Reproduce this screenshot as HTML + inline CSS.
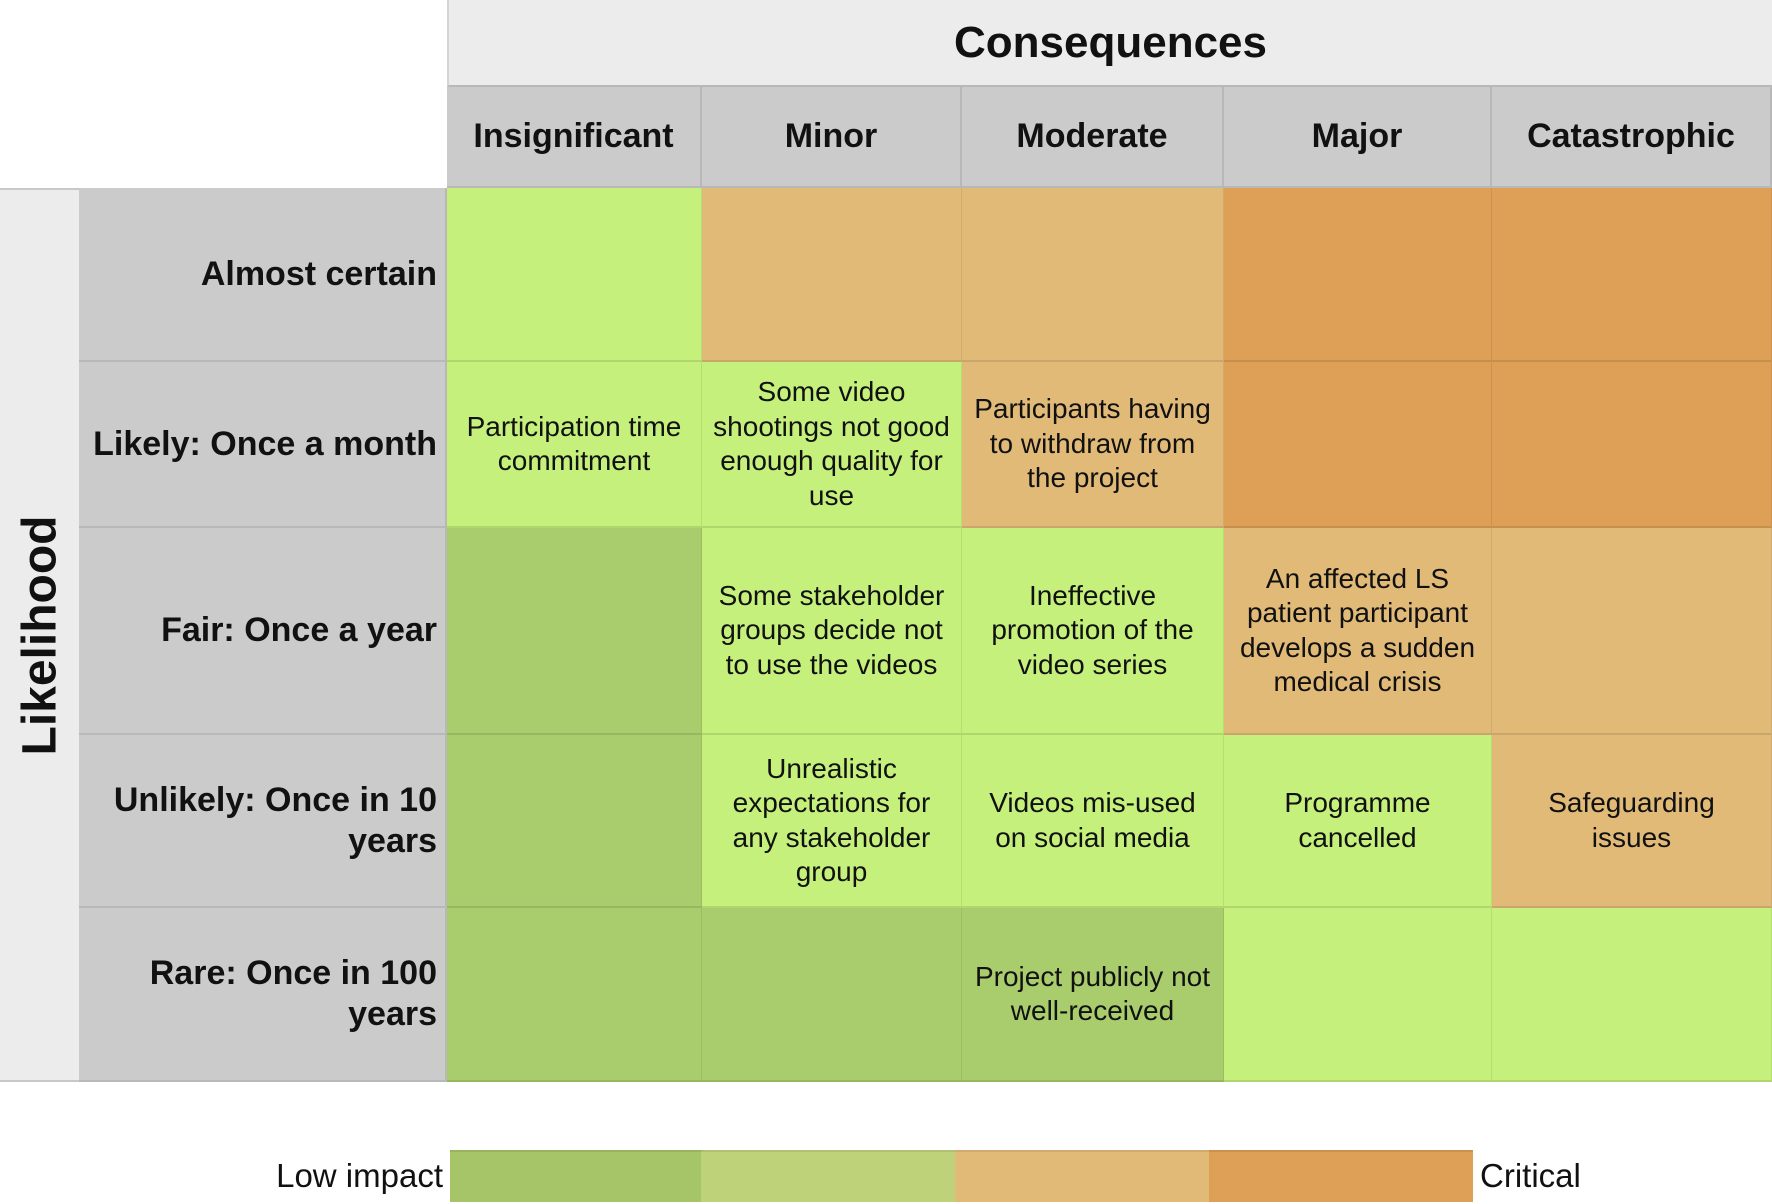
<!DOCTYPE html>
<html><head><meta charset="utf-8">
<style>
html,body{margin:0;padding:0;background:#fff;}
#root{position:relative;width:1772px;height:1204px;overflow:hidden;font-family:"Liberation Sans",Arial,sans-serif;color:#111;}
.box{position:absolute;box-sizing:border-box;display:flex;align-items:center;justify-content:center;text-align:center;}
.cell{border-right:1px solid rgba(0,0,0,0.08);border-bottom:2px solid rgba(0,0,0,0.10);font-size:28px;line-height:34.5px;padding:0 8px;}
.colh{background:#cbcbcb;border-right:2px solid #b8b8b8;border-bottom:2px solid #b8b8b8;font-weight:bold;font-size:34px;}
.rowh{background:#cbcbcb;border-bottom:2px solid #b8b8b8;border-right:2px solid #b8b8b8;font-weight:bold;font-size:34px;line-height:41px;justify-content:flex-end;text-align:right;padding-right:8px;}
</style></head>
<body>
<div id="root">
  <div class="box" style="left:447px;top:0;width:1325px;height:87px;background:#ececec;border-left:2px solid #d4d4d4;border-bottom:2px solid #b8b8b8;font-weight:bold;font-size:44px;">Consequences</div>
  <div class="box" style="left:0;top:188px;width:79px;height:894px;background:#ececec;border-top:2px solid #c8c8c8;border-bottom:2px solid #c8c8c8;">
    <div style="transform:rotate(-90deg);font-weight:bold;font-size:48px;white-space:nowrap;">Likelihood</div>
  </div>
</div>
<script>
const columns = ["Insignificant","Minor","Moderate","Major","Catastrophic"];
const rows = ["Almost certain","Likely: Once a month","Fair: Once a year","Unlikely: Once in 10<br>years","Rare: Once in 100<br>years"];
const levels = [
  [1,2,2,3,3],
  [1,1,2,3,3],
  [0,1,1,2,2],
  [0,1,1,1,2],
  [0,0,0,1,1]
];
const texts = [
  ["","","","",""],
  ["Participation time<br>commitment","Some video<br>shootings not good<br>enough quality for<br>use","Participants having<br>to withdraw from<br>the project","",""],
  ["","Some stakeholder<br>groups decide not<br>to use the videos","Ineffective<br>promotion of the<br>video series","An affected LS<br>patient participant<br>develops a sudden<br>medical crisis",""],
  ["","Unrealistic<br>expectations for<br>any stakeholder<br>group","Videos mis-used<br>on social media","Programme<br>cancelled","Safeguarding<br>issues"],
  ["","","Project publicly not<br>well-received","",""]
];
const legendLabels = ["Low impact","Critical"];

const colEdges=[447,702,962,1224,1492,1772];
const rowEdges=[188,362,528,735,908,1082];
const palette=["#a9cc6c","#c6f07c","#e1ba78","#dea056"];
const legendPalette=["#a6c468","#bed27a","#e1ba78","#dea056"];
const root=document.getElementById('root');
function box(cls,x,y,w,h){const d=document.createElement('div');d.className='box '+cls;d.style.left=x+'px';d.style.top=y+'px';d.style.width=w+'px';d.style.height=h+'px';root.appendChild(d);return d;}

columns.forEach((c,i)=>{
  const d=box('colh',colEdges[i],87,colEdges[i+1]-colEdges[i],101);
  d.innerHTML=c;
  
  
});
rows.forEach((r,j)=>{
  const d=box('rowh',79,rowEdges[j],368,rowEdges[j+1]-rowEdges[j]);
  d.innerHTML=r;
  
  
  columns.forEach((c,i)=>{
    const e=box('cell',colEdges[i],rowEdges[j],colEdges[i+1]-colEdges[i],rowEdges[j+1]-rowEdges[j]);
    e.style.background=palette[levels[j][i]];
    e.innerHTML=texts[j][i];
    
    
  });
});
// legend
const legEdges=[450,701,955,1209,1473];
legendPalette.forEach((p,k)=>{
  const s=box('',legEdges[k],1150,legEdges[k+1]-legEdges[k],52);
  s.style.background=p;
  s.style.borderTop='2px solid rgba(0,0,0,0.08)';
  
  
});
const lo=box('',150,1150,293,52);
lo.style.justifyContent='flex-end';lo.style.fontSize='33px';lo.textContent=legendLabels[0];


const hi=box('',1480,1150,250,52);
hi.style.justifyContent='flex-start';hi.style.fontSize='33px';hi.textContent=legendLabels[1];


</script>
</body></html>
